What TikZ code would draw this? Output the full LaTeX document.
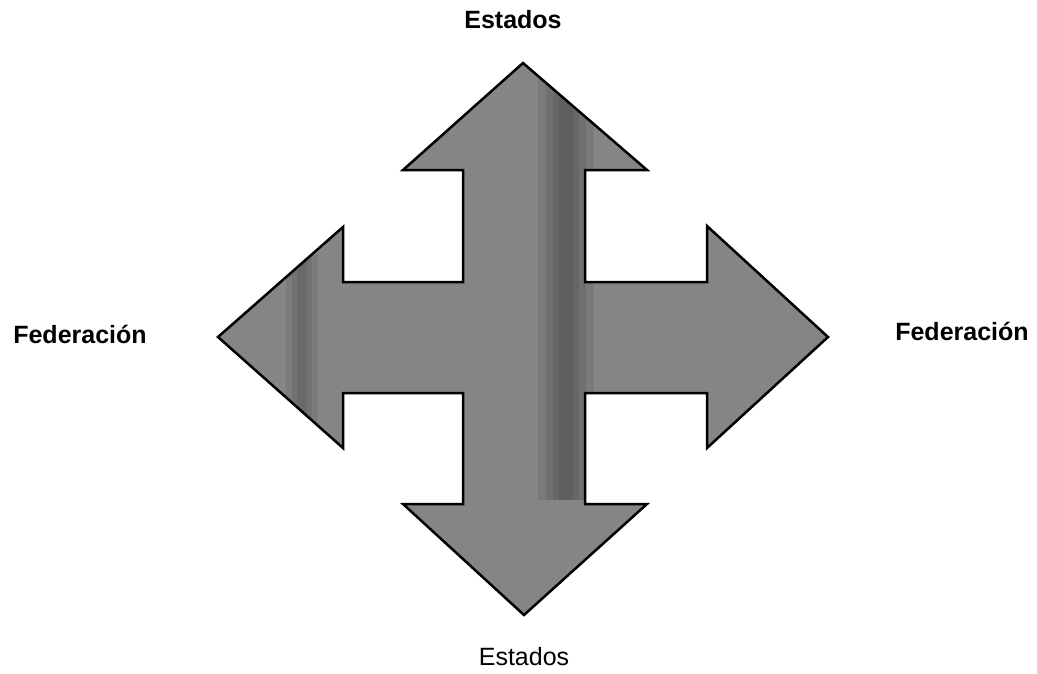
\documentclass[tikz,border=0pt]{standalone}
\usepackage{fontspec}
\setmainfont{Liberation Sans}
\begin{document}
\begin{tikzpicture}[x=1pt, y=-1pt,
    cross/.style={draw=black, line width=2.5pt, line join=miter, fill=black!48,
                  path picture={\foreach \w in {28,20,13,7}
                                  \fill[black, opacity=0.08] (566-\w,72) rectangle (566+\w,500);
                                \foreach \w in {16,10,5}
                                  \fill[black, opacity=0.07] (302-\w,255) rectangle (302+\w,425);}},
    lbl/.style={inner sep=0pt, anchor=base, font=\fontsize{25}{30}\selectfont\bfseries},
    lblplain/.style={inner sep=0pt, anchor=base, font=\fontsize{25}{30}\selectfont} ]
  \useasboundingbox (0,0) rectangle (1037,673);
  % cruz de cuatro flechas
  \draw[cross] (523,63) -- (647,170) -- (585,170) -- (585,282) -- (707,282) -- (707,226)
    -- (828,337) -- (707,448) -- (707,393) -- (585,393) -- (585,504) -- (647,504)
    -- (524,615) -- (403,504) -- (463,504) -- (463,393) -- (343,393) -- (343,448)
    -- (218,337) -- (343,227) -- (343,282) -- (463,282) -- (463,170) -- (403,170) -- cycle;

  \node[lbl] (estN) at (513,28) {Estados};
  \node[lblplain] (estS) at (524,665) {Estados};
  \node[lbl] (fedW) at (80,343) {Federación};
  \node[lbl] (fedE) at (962,340) {Federación};
\end{tikzpicture}
\end{document}
